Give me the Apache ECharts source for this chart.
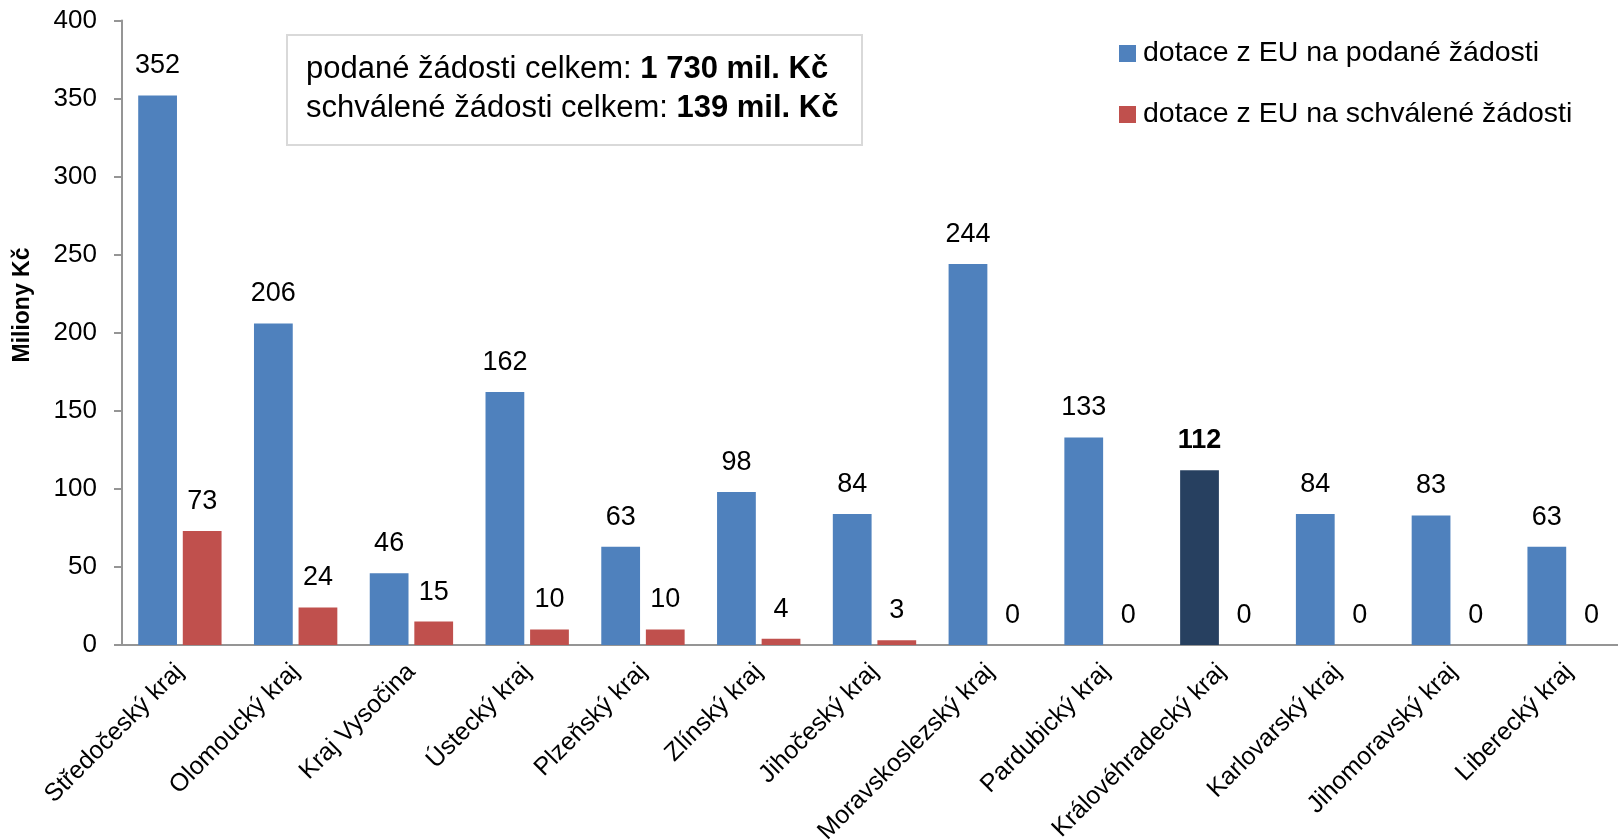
<!DOCTYPE html>
<html>
<head>
<meta charset="utf-8">
<script src="https://cdn.jsdelivr.net/npm/echarts@6/dist/echarts.min.js"></script>
<style>
  html, body { margin: 0; padding: 0; background: #fff; }
  #chart { width: 1618px; height: 840px; }
</style>
</head>
<body>
<div id="chart"></div>
<script>
// regions (kraje) and EU subsidies, mil. Kč
const regions = ['Středočeský kraj', 'Olomoucký kraj', 'Kraj Vysočina', 'Ústecký kraj', 'Plzeňský kraj',
  'Zlínský kraj', 'Jihočeský kraj', 'Moravskoslezský kraj', 'Pardubický kraj', 'Královéhradecký kraj',
  'Karlovarský kraj', 'Jihomoravský kraj', 'Liberecký kraj'];
const submitted = [352, 206, 46, 162, 63, 98, 84, 244, 133, 112, 84, 83, 63];
const approved = [73, 24, 15, 10, 10, 4, 3, 0, 0, 0, 0, 0, 0];
const highlighted = 'Královéhradecký kraj';
const seriesNames = ['dotace z EU na podané žádosti', 'dotace z EU na schválené žádosti'];
const totalLines = [
  ['podané žádosti celkem: ', '1 730 mil. Kč'],
  ['schválené žádosti celkem: ', '139 mil. Kč']
];

const font = '"Liberation Sans", Arial, sans-serif';
const axisGray = '#959595';

const chart = echarts.init(document.getElementById('chart'));

const submittedData = submitted.map((v, i) => regions[i] === highlighted
  ? { value: v, itemStyle: { color: '#274060' }, label: { fontWeight: 'bold' } }
  : v);

const barLabel = {
  show: true,
  position: 'top',
  distance: 16,
  color: '#000',
  fontFamily: font,
  fontSize: 27
};

chart.setOption({
  animation: false,
  textStyle: { fontFamily: font },
  grid: { left: 122, right: -9, top: 20.6, bottom: 195, outerBoundsMode: 'none' },
  legend: {
    orient: 'vertical',
    left: 1114,
    top: 34,
    icon: 'rect',
    itemWidth: 17,
    itemHeight: 17,
    itemGap: 32,
    textStyle: { fontFamily: font, fontSize: 28.5, color: '#000', padding: [0, 0, 0, 2] },
    data: seriesNames
  },
  graphic: [
    {
      type: 'rect',
      shape: { x: 287, y: 35, width: 575, height: 110 },
      style: { fill: '#fff', stroke: '#d9d9d9', lineWidth: 2 },
      z: 10
    },
    {
      type: 'text',
      x: 306,
      y: 49.5,
      z: 11,
      style: {
        text: totalLines.map(l => '{n|' + l[0] + '}{b|' + l[1] + '}').join('\n'),
        verticalAlign: 'top',
        lineHeight: 39,
        rich: {
          n: { fontFamily: font, fontSize: 31, color: '#000', lineHeight: 39 },
          b: { fontFamily: font, fontSize: 31, fontWeight: 'bold', color: '#000', lineHeight: 39 }
        }
      }
    },
    {
      // y axis title
      type: 'text',
      x: 23,
      y: 305,
      rotation: Math.PI / 2,
      style: {
        text: 'Miliony Kč',
        align: 'center',
        verticalAlign: 'middle',
        fontFamily: font,
        fontSize: 23,
        fontWeight: 'bold',
        fill: '#000'
      }
    }
  ],
  xAxis: {
    type: 'category',
    data: regions,
    axisLine: { lineStyle: { color: axisGray, width: 2 } },
    axisTick: { length: 9, lineStyle: { color: axisGray, width: 2 } },
    axisLabel: {
      rotate: 45,
      interval: 0,
      margin: 23,
      padding: [14, 0, 0, 0],
      color: '#000',
      fontFamily: font,
      fontSize: 25
    }
  },
  yAxis: {
    type: 'value',
    min: 0,
    max: 400,
    interval: 50,
    axisLine: { show: true, lineStyle: { color: axisGray, width: 2 } },
    axisTick: { show: true, length: 8, lineStyle: { color: axisGray, width: 2 } },
    splitLine: { show: false },
    axisLabel: { margin: 25, color: '#000', fontFamily: font, fontSize: 26 }
  },
  series: [
    {
      name: seriesNames[0],
      type: 'bar',
      data: submittedData,
      itemStyle: { color: '#4F81BD' },
      barCategoryGap: '28%',
      barGap: '15%',
      label: barLabel
    },
    {
      name: seriesNames[1],
      type: 'bar',
      data: approved,
      itemStyle: { color: '#C0504D' },
      label: barLabel
    }
  ]
});
</script>
</body>
</html>
